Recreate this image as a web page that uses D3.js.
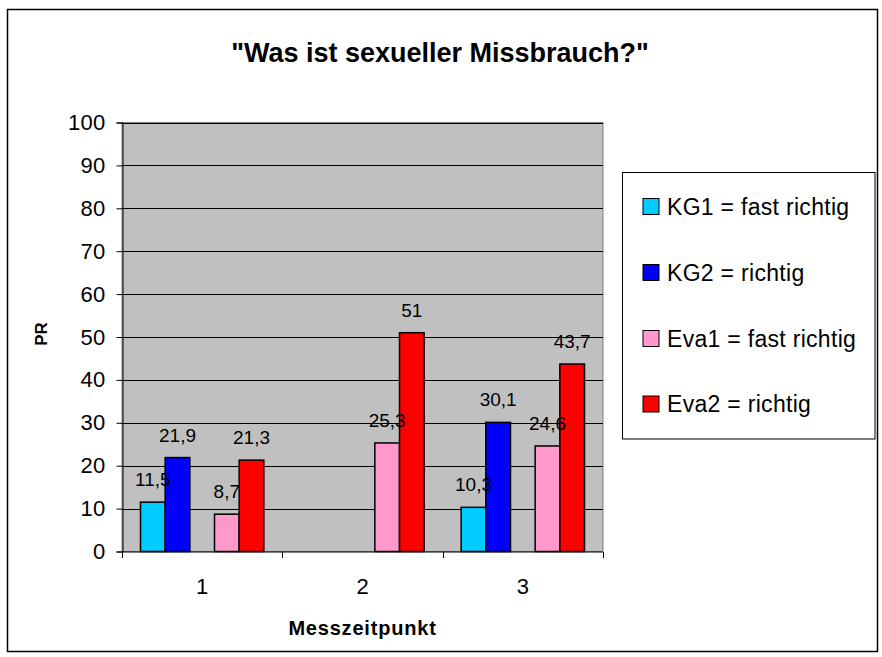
<!DOCTYPE html>
<html>
<head>
<meta charset="utf-8">
<script src="https://cdn.jsdelivr.net/npm/d3@7"></script>
<style>
body { margin: 0; background: #fff; }
text { font-family: "Liberation Sans", Arial, sans-serif; fill: #000; }
</style>
</head>
<body>
<svg id="chart" width="882" height="657"></svg>
<script>
// data
var categories = ["1", "2", "3"];
var seriesNames = ["KG1 = fast richtig", "KG2 = richtig", "", "Eva1 = fast richtig", "Eva2 = richtig"];
var seriesColors = ["#00ccff", "#0000ff", "none", "#ff99cc", "#ff0000"];
var kg1 = [11.5, null, 10.3];
var kg2 = [21.9, null, 30.1];
var spacer = [null, null, null]; // empty slot between KG and Eva
var eva1 = [8.7, 25.3, 24.6];
var eva2 = [21.3, 51, 43.7];
var yTicks = [0, 10, 20, 30, 40, 50, 60, 70, 80, 90, 100];

var seriesValues = [kg1, kg2, spacer, eva1, eva2];

var svg = d3.select("#chart");

var plot = { left: 122, top: 122.5, right: 603, bottom: 551.5 };

var x0 = d3.scaleBand().domain(categories).range([plot.left, plot.right]).padding(0);
var x1 = d3.scaleBand().domain(d3.range(seriesValues.length))
	.range([0, x0.bandwidth()]).paddingInner(0).paddingOuter(0.75);
var y = d3.scaleLinear().domain([0, 100]).range([plot.bottom, plot.top]);

var deLocale = d3.formatLocale({ decimal: ",", thousands: ".", grouping: [3], currency: ["", " €"] });
var fmt = deLocale.format("~g");

// outer chart border
svg.append("rect")
	.attr("x", 7.5).attr("y", 9.5)
	.attr("width", 870).attr("height", 642)
	.attr("fill", "none").attr("stroke", "#000").attr("stroke-width", 1.5);

// plot area
svg.append("rect")
	.attr("x", plot.left).attr("y", plot.top)
	.attr("width", plot.right - plot.left).attr("height", plot.bottom - plot.top)
	.attr("fill", "#c0c0c0").attr("stroke", "#808080").attr("stroke-width", 1);

// gridlines
svg.append("g").selectAll("line").data(yTicks.filter(function(d) { return d > 0; })).enter()
	.append("line")
	.attr("x1", plot.left).attr("x2", plot.right)
	.attr("y1", function(d) { return Math.round(y(d)) + 0.5; })
	.attr("y2", function(d) { return Math.round(y(d)) + 0.5; })
	.attr("stroke", "#000").attr("stroke-width", 1);

// y axis
var yAxis = svg.append("g")
	.attr("transform", "translate(" + (plot.left + 0.5) + ",0)")
	.call(d3.axisLeft(y).tickValues(yTicks).tickSize(6).tickPadding(11));
yAxis.select(".domain").attr("stroke", "#000");
yAxis.selectAll(".tick line").attr("stroke", "#000");
yAxis.selectAll(".tick text")
	.attr("font-size", 22).attr("letter-spacing", 0.3)
	.attr("font-family", "Liberation Sans, Arial, sans-serif");

// x axis (ticks at category boundaries)
var xAxis = svg.append("g").attr("transform", "translate(0," + (plot.bottom + 0.5) + ")");
xAxis.append("line")
	.attr("x1", plot.left).attr("x2", plot.right)
	.attr("stroke", "#000");
xAxis.selectAll(".bound").data(categories.concat(["end"])).enter()
	.append("line")
	.attr("class", "bound")
	.attr("x1", function(d, i) { return Math.round(plot.left + i * x0.step()) + 0.5; })
	.attr("x2", function(d, i) { return Math.round(plot.left + i * x0.step()) + 0.5; })
	.attr("y1", 0).attr("y2", 6)
	.attr("stroke", "#000");
xAxis.selectAll(".cat").data(categories).enter()
	.append("text")
	.attr("class", "cat")
	.attr("x", function(d) { return x0(d) + x0.bandwidth() / 2; })
	.attr("y", 42)
	.attr("text-anchor", "middle")
	.attr("font-size", 22)
	.text(function(d) { return d; });

// bars
var groups = svg.append("g").selectAll("g").data(categories).enter()
	.append("g")
	.attr("transform", function(d) { return "translate(" + x0(d) + ",0)"; });

groups.each(function(cat, ci) {

	var g = d3.select(this);
	var cells = seriesValues.map(function(vals, si) {
		return { series: si, value: vals[ci] };
	}).filter(function(d) { return d.value != null; });

	g.selectAll("rect").data(cells).enter()
		.append("rect")
		.attr("x", function(d) { return x1(d.series); })
		.attr("y", function(d) { return y(d.value); })
		.attr("width", x1.bandwidth())
		.attr("height", function(d) { return y(0) - y(d.value); })
		.attr("fill", function(d) { return seriesColors[d.series]; })
		.attr("stroke", "#000")
		.attr("stroke-width", 1.5);

	g.selectAll("text").data(cells).enter()
		.append("text")
		.attr("x", function(d) { return x1(d.series) + x1.bandwidth() / 2; })
		.attr("y", function(d) { return y(d.value) - 16; })
		.attr("text-anchor", "middle")
		.attr("font-size", 19)
		.text(function(d) { return fmt(d.value); });

});// END: groups

// title
svg.append("text")
	.attr("x", 440).attr("y", 62)
	.attr("text-anchor", "middle")
	.attr("font-size", 27).attr("font-weight", "bold")
	.text("\"Was ist sexueller Missbrauch?\"");

// axis titles
svg.append("text")
	.attr("x", (plot.left + plot.right) / 2).attr("y", 635)
	.attr("text-anchor", "middle")
	.attr("font-size", 20).attr("font-weight", "bold")
	.attr("letter-spacing", 0.8)
	.text("Messzeitpunkt");

svg.append("text")
	.attr("transform", "translate(47," + ((plot.top + plot.bottom) / 2 - 3) + ") rotate(-90)")
	.attr("text-anchor", "middle")
	.attr("font-size", 17).attr("font-weight", "bold")
	.text("PR");

// legend
var legendRows = [0, 1, 3, 4];
var rowY = [206.5, 272.5, 338.5, 404];

var legend = svg.append("g");
legend.append("rect")
	.attr("x", 622.5).attr("y", 172.5)
	.attr("width", 252.5).attr("height", 266.5)
	.attr("fill", "#fff").attr("stroke", "#000").attr("stroke-width", 1);

var items = legend.selectAll(".item").data(legendRows).enter()
	.append("g")
	.attr("class", "item")
	.attr("transform", function(d, i) { return "translate(643," + rowY[i] + ")"; });

items.append("rect")
	.attr("x", 0).attr("y", -8)
	.attr("width", 16).attr("height", 16)
	.attr("fill", function(d) { return seriesColors[d]; })
	.attr("stroke", "#000").attr("stroke-width", 1);

items.append("text")
	.attr("x", 24).attr("y", 8)
	.attr("font-size", 23).attr("letter-spacing", 0.3)
	.text(function(d) { return seriesNames[d]; });
</script>
</body>
</html>
